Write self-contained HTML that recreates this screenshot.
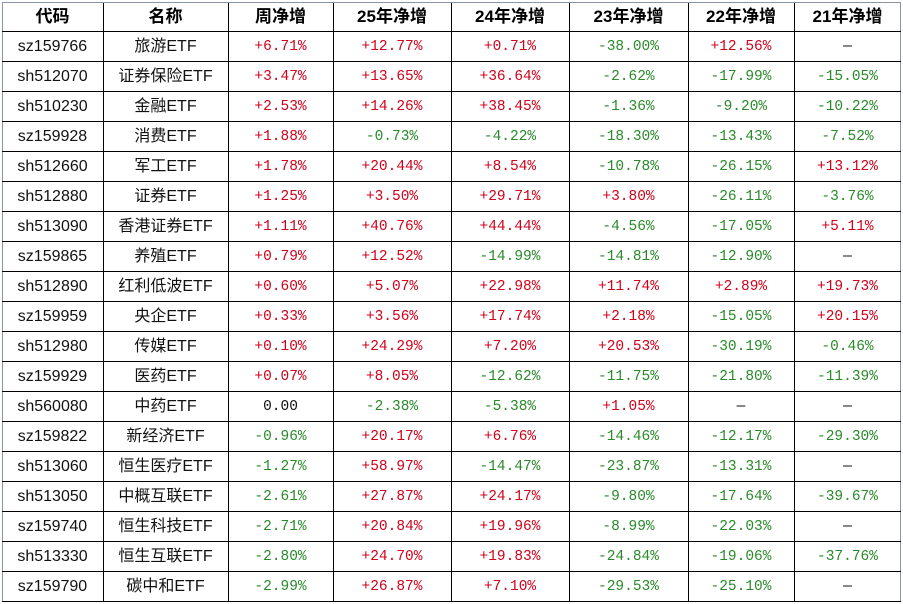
<!DOCTYPE html>
<html><head><meta charset="utf-8"><style>
body{margin:0;width:903px;height:604px;background:#fff;overflow:hidden;position:relative}
.c{position:absolute;display:flex;align-items:center;justify-content:center;box-sizing:border-box;white-space:nowrap}
.c span{display:block;line-height:18px;height:18px}
.h{font:bold 17px "Liberation Sans","Noto Sans CJK SC",sans-serif;color:#000}
.t{font:16px "Liberation Sans","Noto Sans CJK SC",sans-serif;color:#111}
.n{font:14.5px "Liberation Mono","Noto Sans CJK SC",monospace;color:#111}
.r{color:#d0021b}.g{color:#2a8a2a}
.vl{position:absolute;top:2px;width:1px;height:600px;background:#000}
.hl{position:absolute;left:2px;width:899px;height:1px;background:#000}
</style></head><body>
<div id="t"></div>
<script>
var xs=[2,103,228,333,451,569,688,794,901];
var hd=["代码","名称","周净增","25年净增","24年净增","23年净增","22年净增","21年净增"];
var d=[
["sz159766","旅游ETF","+6.71%","+12.77%","+0.71%","-38.00%","+12.56%","—"],
["sh512070","证券保险ETF","+3.47%","+13.65%","+36.64%","-2.62%","-17.99%","-15.05%"],
["sh510230","金融ETF","+2.53%","+14.26%","+38.45%","-1.36%","-9.20%","-10.22%"],
["sz159928","消费ETF","+1.88%","-0.73%","-4.22%","-18.30%","-13.43%","-7.52%"],
["sh512660","军工ETF","+1.78%","+20.44%","+8.54%","-10.78%","-26.15%","+13.12%"],
["sh512880","证券ETF","+1.25%","+3.50%","+29.71%","+3.80%","-26.11%","-3.76%"],
["sh513090","香港证券ETF","+1.11%","+40.76%","+44.44%","-4.56%","-17.05%","+5.11%"],
["sz159865","养殖ETF","+0.79%","+12.52%","-14.99%","-14.81%","-12.90%","—"],
["sh512890","红利低波ETF","+0.60%","+5.07%","+22.98%","+11.74%","+2.89%","+19.73%"],
["sz159959","央企ETF","+0.33%","+3.56%","+17.74%","+2.18%","-15.05%","+20.15%"],
["sh512980","传媒ETF","+0.10%","+24.29%","+7.20%","+20.53%","-30.19%","-0.46%"],
["sz159929","医药ETF","+0.07%","+8.05%","-12.62%","-11.75%","-21.80%","-11.39%"],
["sh560080","中药ETF","0.00","-2.38%","-5.38%","+1.05%","—","—"],
["sz159822","新经济ETF","-0.96%","+20.17%","+6.76%","-14.46%","-12.17%","-29.30%"],
["sh513060","恒生医疗ETF","-1.27%","+58.97%","-14.47%","-23.87%","-13.31%","—"],
["sh513050","中概互联ETF","-2.61%","+27.87%","+24.17%","-9.80%","-17.64%","-39.67%"],
["sz159740","恒生科技ETF","-2.71%","+20.84%","+19.96%","-8.99%","-22.03%","—"],
["sh513330","恒生互联ETF","-2.80%","+24.70%","+19.83%","-24.84%","-19.06%","-37.76%"],
["sz159790","碳中和ETF","-2.99%","+26.87%","+7.10%","-29.53%","-25.10%","—"]];
var h='';
function cell(x0,x1,y,hh,cls,txt){return '<div class="c '+cls+'" style="left:'+x0+'px;width:'+(x1-x0)+'px;top:'+y+'px;height:'+hh+'px"><span>'+txt+'</span></div>';}
for(var j=0;j<8;j++)h+=cell(xs[j],xs[j+1],2,30,'h',hd[j]);
for(var i=0;i<d.length;i++){var y=32+i*30;
 for(var j=0;j<8;j++){var v=d[i][j],cls=j==0||j==1?'t':'n';
  if(j>=2){if(v[0]=='+')cls+=' r';else if(v[0]=='-')cls+=' g';}
  h+=cell(xs[j],xs[j+1],y,30,cls,v);}}
for(var j=1;j<8;j++)h+='<div class="vl" style="left:'+xs[j]+'px"></div>';
h+='<div class="vl" style="left:2px;background:#8a96a8"></div><div class="vl" style="left:900px;background:#8a96a8"></div>';
h+='<div class="hl" style="top:2px;background:#8a96a8"></div>';
for(var i=0;i<=19;i++)h+='<div class="hl" style="top:'+(32+i*30-1)+'px"></div>';
document.getElementById('t').innerHTML=h;
</script>
</body></html>
